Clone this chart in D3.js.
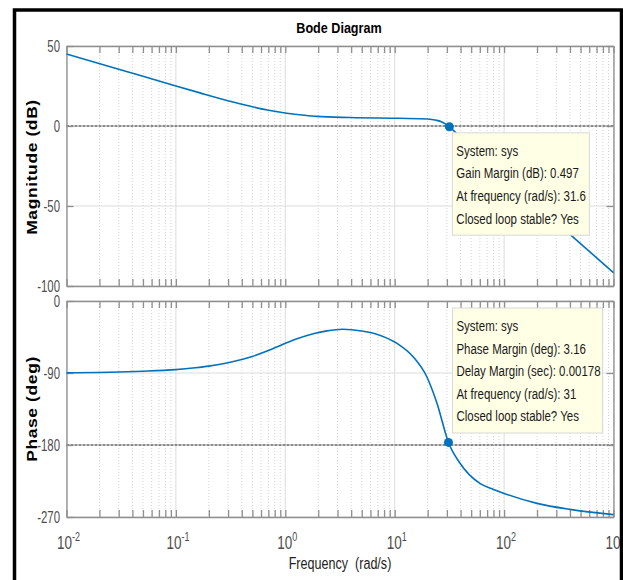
<!DOCTYPE html>
<html>
<head>
<meta charset="utf-8">
<script src="https://cdn.jsdelivr.net/npm/d3@7"></script>
<style>
  body { margin: 0; background: #fff; }
  svg { display: block; }
  .tick text { display: none; }
</style>
</head>
<body>
<div id="chart"></div>
<script>
// values
var magFreq = [0.01, 0.03, 0.1, 0.166, 0.333, 0.5, 0.68, 1.03, 1.5, 1.95, 3.9, 11, 20, 24, 27, 29, 31, 31.6, 35, 40, 50, 70, 100, 200, 400, 1000];
var magDb   = [45, 35.5, 25, 20.7, 15, 12, 10, 8, 6.7, 6, 5.3, 4.8, 4.4, 3.6, 2.5, 1.3, 0, -0.497, -3.2, -7, -13, -22, -31.5, -49.5, -67.7, -91.7];
var phFreq  = [0.01, 0.03, 0.05, 0.1, 0.15, 0.2, 0.3, 0.4, 0.5, 0.7, 0.9, 1.3, 1.8, 2.4, 3.35, 5, 7.4, 10.5, 14.8, 19.7, 24.3, 31, 39.4, 60, 80, 100, 200, 400, 1000];
var phDeg   = [-89.6, -88.7, -87.8, -85.8, -83.5, -81.4, -77.2, -73.2, -69.3, -62, -55.5, -47, -41, -37.3, -35.3, -37.5, -43, -53, -70, -95, -127.5, -176.8, -202.5, -228, -235.5, -240.5, -253, -260.5, -267];
var magTicks = [50, 0, -50, -100];
var phTicks  = [0, -90, -180, -270];
var decades  = [-2, -1, 0, 1, 2, 3];
var gmMarker = [31.6, -0.497];
var pmMarker = [31, -176.8];
var gmText = ["System: sys", "Gain Margin (dB): 0.497", "At frequency (rad/s): 31.6", "Closed loop stable? Yes"];
var pmText = ["System: sys", "Phase Margin (deg): 3.16", "Delay Margin (sec): 0.00178", "At frequency (rad/s): 31", "Closed loop stable? Yes"];

var W = 623, H = 580;
var blue = "#0072bd", axisGray = "#8f8f8f", labelGray = "#4d4d4d";
var sans = "'Liberation Sans', Arial, sans-serif";

var svg = d3.select("#chart").append("svg").attr("width", W).attr("height", H);
svg.append("rect").attr("width", W).attr("height", H).attr("fill", "#fff");

var x = d3.scaleLog().domain([0.01, 1000]).range([66.5, 613.5]);
var yMag = d3.scaleLinear().domain([-100, 50]).range([286, 46]);
var yPh = d3.scaleLinear().domain([-270, 0]).range([517, 301]);

// minor log ticks 1..9 per decade
var minor = [];
decades.forEach(function(d) {
  for (var k = 1; k <= 9; k++) {
    var v = k * Math.pow(10, d);
    if (v <= 1000) minor.push(v);
  }
});
var majors = decades.map(function(d) { return Math.pow(10, d); });

// squeezed text helper (the reference type is condensed)
function label(g, tx, ty, sx, size, str) {
  return g.append("text")
    .attr("transform", "translate(" + tx + "," + ty + ") scale(" + sx + ",1)")
    .style("font-family", sans).style("font-size", size + "px")
    .text(str);
}

function panel(y, ticks, zeroVal) {
  var g = svg.append("g");
  var y0 = y.range()[1], y1 = y.range()[0];
  var x0 = x.range()[0], x1 = x.range()[1];
  // grid
  g.selectAll(".minor").data(minor.filter(function(v) { return majors.indexOf(v) < 0; }))
    .enter().append("line")
      .attr("x1", function(d) { return x(d); }).attr("x2", function(d) { return x(d); })
      .attr("y1", y0).attr("y2", y1)
      .style("stroke", "#d4d4d4").style("stroke-dasharray", "1,2");
  g.selectAll(".major").data(majors)
    .enter().append("line")
      .attr("x1", function(d) { return x(d); }).attr("x2", function(d) { return x(d); })
      .attr("y1", y0).attr("y2", y1)
      .style("stroke", "#dcdcdc");
  g.selectAll(".hgrid").data(ticks.filter(function(t) { return t !== zeroVal; }))
    .enter().append("line")
      .attr("x1", x0).attr("x2", x1)
      .attr("y1", function(d) { return y(d); }).attr("y2", function(d) { return y(d); })
      .style("stroke", "#dcdcdc");
  // reference line (0 dB / -180 deg)
  g.append("line")
    .attr("x1", x0).attr("x2", x1).attr("y1", y(zeroVal)).attr("y2", y(zeroVal))
    .style("stroke", "#666").style("stroke-width", 1.3).style("stroke-dasharray", "3,1");

  // axes box with inside ticks
  g.append("g").attr("transform", "translate(0," + y1 + ")")
    .call(d3.axisBottom(x).tickValues(minor).tickSize(-7).tickSizeOuter(0));
  g.append("g").attr("transform", "translate(0," + y0 + ")")
    .call(d3.axisTop(x).tickValues(minor).tickSize(-7).tickSizeOuter(0));
  g.append("g").attr("transform", "translate(" + x0 + ",0)")
    .call(d3.axisLeft(y).tickValues(ticks).tickSize(-7).tickSizeOuter(0));
  g.append("g").attr("transform", "translate(" + x1 + ",0)")
    .call(d3.axisRight(y).tickValues(ticks).tickSize(-7).tickSizeOuter(0));
  g.selectAll(".domain, .tick line").style("stroke", axisGray).style("stroke-width", 1.3);

  // y tick labels
  ticks.forEach(function(t) {
    label(g, 60, y(t) + 6, 0.67, 17, t).attr("text-anchor", "end").style("fill", labelGray);
  });
  return g;
}

function curve(y, fs, vs) {
  var pts = fs.map(function(f, i) { return [f, vs[i]]; });
  svg.append("path").datum(pts)
    .attr("d", d3.line().x(function(d) { return x(d[0]); }).y(function(d) { return y(d[1]); }).curve(d3.curveMonotoneX))
    .style("fill", "none").style("stroke", blue).style("stroke-width", 1.6);
}

function note(lines, bx, by, bw, lineY0) {
  var g = svg.append("g");
  g.append("rect").attr("x", bx).attr("y", by).attr("width", bw).attr("height", lines.length * 22.6 + 12)
    .style("fill", "#ffffe6").style("stroke", "#d8d8d8");
  lines.forEach(function(s, i) {
    label(g, bx + 4, lineY0 + i * 22.6, 0.82, 14, s).style("fill", "#1a1a1a");
  });
}

panel(yMag, magTicks, 0);
panel(yPh, phTicks, -180);
curve(yMag, magFreq, magDb);
curve(yPh, phFreq, phDeg);

svg.append("circle").attr("cx", x(gmMarker[0])).attr("cy", yMag(gmMarker[1])).attr("r", 4.5).style("fill", blue);
svg.append("circle").attr("cx", x(pmMarker[0])).attr("cy", yPh(pmMarker[1])).attr("r", 4.5).style("fill", blue);

note(gmText, x(gmMarker[0]) + 3, yMag(gmMarker[1]) + 6, 137, yMag(gmMarker[1]) + 29);
note(pmText, x(pmMarker[0]) + 4, 308, 150, 331);

// x tick labels 10^n
var xg = svg.append("g");
decades.forEach(function(d) {
  var t = label(xg, x(Math.pow(10, d)) + 2, 549, 0.75, 18, null)
    .attr("text-anchor", "middle").style("fill", labelGray);
  t.append("tspan").text("10");
  t.append("tspan").attr("dy", -8).style("font-size", "12px").text(d);
});

// titles
label(svg, 339, 33, 0.9, 14, "Bode Diagram").attr("text-anchor", "middle").style("font-weight", "bold");
label(svg, 340, 569, 0.74, 17, "Frequency  (rad/s)").attr("text-anchor", "middle")
  .style("fill", "#222").style("white-space", "pre");
svg.append("text").attr("transform", "translate(37,167) rotate(-90) scale(1,0.8)").attr("text-anchor", "middle")
  .style("font-family", sans).style("font-size", "17.5px").style("font-weight", "bold").style("letter-spacing", "0.6px")
  .text("Magnitude (dB)");
svg.append("text").attr("transform", "translate(37,409) rotate(-90) scale(1,0.8)").attr("text-anchor", "middle")
  .style("font-family", sans).style("font-size", "17.5px").style("font-weight", "bold").style("letter-spacing", "0.6px")
  .text("Phase (deg)");

// outer frame
svg.append("rect").attr("x", 14.5).attr("y", 10).attr("width", 607).attr("height", 590)
  .style("fill", "none").style("stroke", "#000").style("stroke-width", 3.5);
</script>
</body>
</html>
